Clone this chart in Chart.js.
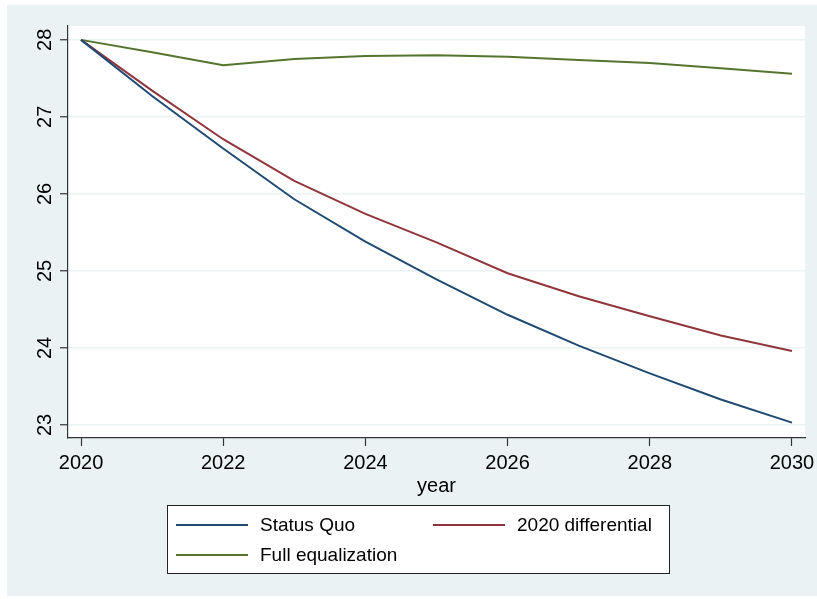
<!DOCTYPE html>
<html>
<head>
<meta charset="utf-8">
<title>Life expectancy projections</title>
<script src="https://cdn.jsdelivr.net/npm/chart.js@4.4.1/dist/chart.umd.min.js"></script>
<style>
  html, body { margin: 0; padding: 0; background: #fff; }
  #wrap { position: relative; width: 817px; height: 599px; }
</style>
</head>
<body>
<div id="wrap"><canvas id="projChart" width="817" height="599"></canvas></div>
<script>
// values
const years = [2020, 2021, 2022, 2023, 2024, 2025, 2026, 2027, 2028, 2029, 2030];
const statusQuo = [28.0, 27.27, 26.59, 25.93, 25.38, 24.89, 24.43, 24.03, 23.67, 23.33, 23.03];
const differential2020 = [28.0, 27.34, 26.71, 26.17, 25.74, 25.37, 24.97, 24.67, 24.41, 24.16, 23.96];
const fullEqualization = [28.0, 27.84, 27.67, 27.75, 27.79, 27.80, 27.78, 27.74, 27.70, 27.63, 27.56];
const seriesNames = ["Status Quo", "2020 differential", "Full equalization"];
const xTicks = [2020, 2022, 2024, 2026, 2028, 2030];
const yTicks = [23, 24, 25, 26, 27, 28];

const colors = ["#1F4A72", "#90353B", "#55752F"];
const bgColor = "#EAF2F3";
const font = "'Liberation Sans', Arial, Helvetica, sans-serif";

function toPoints(vals) {
  return years.map((yr, i) => ({ x: yr, y: vals[i] }));
}

// stata-like backdrop: light blue page, white plot region
const backdrop = {
  id: "backdrop",
  beforeDraw(chart) {
    const { ctx, chartArea } = chart;
    ctx.save();
    ctx.fillStyle = "#fff";
    ctx.fillRect(0, 0, chart.width, chart.height);
    ctx.fillStyle = bgColor;
    ctx.fillRect(7, 5, chart.width - 7, chart.height - 8);
    ctx.fillStyle = "#fff";
    ctx.fillRect(chartArea.left, chartArea.top, chartArea.right - chartArea.left, chartArea.bottom - chartArea.top);
    ctx.restore();
  }
};

// vertical y tick labels (read bottom to top)
const yLabels = {
  id: "yLabels",
  afterDraw(chart) {
    const { ctx } = chart;
    const y = chart.scales.y;
    ctx.save();
    ctx.fillStyle = "#000";
    ctx.font = "20px " + font;
    ctx.textAlign = "center";
    ctx.textBaseline = "middle";
    yTicks.forEach((v) => {
      ctx.save();
      ctx.translate(y.left + 38, y.getPixelForValue(v));
      ctx.rotate(-Math.PI / 2);
      ctx.fillText(String(v), 0, 0);
      ctx.restore();
    });
    ctx.restore();
  }
};

// boxed legend under the plot, two columns
const boxLegend = {
  id: "boxLegend",
  afterDraw(chart) {
    const { ctx } = chart;
    const box = { x: 167, y: 505, w: 502, h: 68 };
    const cols = [176, 433];
    const rows = [525, 555];
    ctx.save();
    ctx.fillStyle = "#fff";
    ctx.fillRect(box.x, box.y, box.w, box.h);
    ctx.strokeStyle = "#222";
    ctx.lineWidth = 1;
    ctx.strokeRect(box.x + 0.5, box.y + 0.5, box.w, box.h);
    ctx.font = "19px " + font;
    ctx.textBaseline = "middle";
    ctx.textAlign = "left";
    chart.data.datasets.forEach((ds, i) => {
      const cx = cols[i % 2];
      const cy = rows[Math.floor(i / 2)];
      ctx.strokeStyle = ds.borderColor;
      ctx.lineWidth = 2;
      ctx.beginPath();
      ctx.moveTo(cx, cy);
      ctx.lineTo(cx + 72, cy);
      ctx.stroke();
      ctx.fillStyle = "#000";
      ctx.fillText(ds.label, cx + 84, cy + 1);
    });
    ctx.restore();
  }
};

const series = [statusQuo, differential2020, fullEqualization];

new Chart(document.getElementById("projChart"), {
  type: "line",
  data: {
    datasets: series.map((vals, i) => ({
      label: seriesNames[i],
      data: toPoints(vals),
      borderColor: colors[i],
      borderWidth: 2,
      pointRadius: 0,
      tension: 0,
      fill: false
    }))
  },
  options: {
    responsive: false,
    animation: false,
    layout: { padding: { left: 7, top: 26, right: 12, bottom: 101 } },
    plugins: {
      legend: { display: false },
      tooltip: { enabled: false }
    },
    scales: {
      x: {
        type: "linear",
        min: 2019.817,
        max: 2030.183,
        afterBuildTicks: (s) => { s.ticks = xTicks.map((v) => ({ value: v })); },
        afterFit: (s) => { s.paddingLeft = 0; s.paddingRight = 0; s.height = 60; },
        ticks: {
          color: "#000",
          padding: 5,
          maxRotation: 0,
          font: { size: 20, family: font },
          callback: (v) => String(v)
        },
        grid: {
          drawOnChartArea: false,
          drawTicks: true,
          tickLength: 8,
          tickColor: "#333",
          tickWidth: 1.2
        },
        border: { display: true, color: "#333", width: 1.2 },
        title: {
          display: true,
          text: "year",
          color: "#000",
          padding: { top: 0, bottom: 0 },
          font: { size: 20, family: font }
        }
      },
      y: {
        type: "linear",
        min: 22.83,
        max: 28.18,
        afterBuildTicks: (s) => { s.ticks = yTicks.map((v) => ({ value: v })); },
        afterFit: (s) => { s.width = 61; s.paddingTop = 0; s.paddingBottom = 0; },
        ticks: { display: false },
        grid: {
          color: bgColor,
          lineWidth: 1.5,
          drawTicks: true,
          tickLength: 8,
          tickColor: "#333",
          tickWidth: 1.2
        },
        border: { display: true, color: "#333", width: 1.2 }
      }
    }
  },
  plugins: [backdrop, yLabels, boxLegend]
});
</script>
</body>
</html>
